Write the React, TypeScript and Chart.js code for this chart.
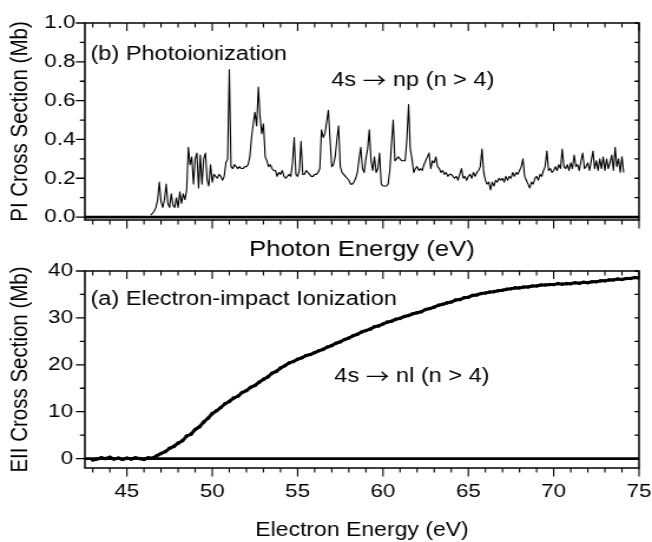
import { useEffect, useRef } from 'react';
import { Chart, registerables } from 'chart.js';

Chart.register(...registerables);

// The drawing is laid out on a 553px-wide canvas that is shown 652px wide,
// which gives the figure its slightly wide lettering.
const CANVAS_W = 553;
const PAGE_W = 652;
const SX = PAGE_W / CANVAS_W;
const FONT = "'Liberation Sans', Arial, Helvetica, sans-serif";
const ARROW = '\u2192';
const ARROW_FONT = "20px 'Noto Sans CJK SC', 'DejaVu Sans', sans-serif";
const ARROW_DROP = 2;

// Shared energy axis (eV)
const X_MIN = 42.54;
const X_MAX = 75;
const X_TICKS = [45, 50, 55, 60, 65, 70, 75];

// (b) Photoionization cross section (Mb), sampled every 0.1 eV from 46.4 eV
const PI_START = 46.4;
const PI_STEP = 0.1;
const PI_SECTION = [
  0.01, 0.02, 0.03, 0.05, 0.09, 0.18,
  0.08, 0.05, 0.09, 0.17, 0.07, 0.05, 0.12, 0.06, 0.05, 0.10,
  0.05, 0.13, 0.07, 0.12, 0.09, 0.14, 0.36, 0.27, 0.31, 0.17,
  0.30, 0.33, 0.15, 0.32, 0.17, 0.30, 0.33, 0.19, 0.16, 0.27,
  0.18, 0.22, 0.21, 0.20, 0.22, 0.21, 0.19, 0.21, 0.28, 0.30,
  0.76, 0.26, 0.25, 0.27, 0.26, 0.25, 0.26, 0.25, 0.25, 0.26,
  0.26, 0.27, 0.31, 0.41, 0.48, 0.54, 0.47, 0.67, 0.52, 0.43,
  0.48, 0.31, 0.29, 0.26, 0.27, 0.25, 0.24, 0.24, 0.21, 0.23,
  0.22, 0.24, 0.21, 0.20, 0.21, 0.22, 0.21, 0.28, 0.41, 0.22,
  0.21, 0.24, 0.39, 0.22, 0.22, 0.24, 0.23, 0.22, 0.21, 0.21,
  0.22, 0.22, 0.23, 0.25, 0.45, 0.41, 0.43, 0.49, 0.55, 0.40,
  0.26, 0.27, 0.31, 0.40, 0.47, 0.26, 0.23, 0.22, 0.21, 0.20,
  0.19, 0.17, 0.17, 0.18, 0.20, 0.23, 0.30, 0.36, 0.25, 0.23,
  0.30, 0.35, 0.45, 0.29, 0.24, 0.31, 0.23, 0.25, 0.33, 0.17,
  0.16, 0.16, 0.16, 0.17, 0.24, 0.38, 0.50, 0.29, 0.30, 0.31,
  0.30, 0.29, 0.29, 0.29, 0.40, 0.58, 0.35, 0.30, 0.23, 0.25,
  0.26, 0.24, 0.25, 0.24, 0.27, 0.29, 0.31, 0.33, 0.25, 0.29,
  0.28, 0.31, 0.26, 0.25, 0.23, 0.24, 0.22, 0.23, 0.21, 0.22,
  0.22, 0.21, 0.20, 0.21, 0.19, 0.22, 0.25, 0.20, 0.21, 0.19,
  0.21, 0.22, 0.20, 0.23, 0.21, 0.23, 0.24, 0.26, 0.35, 0.23,
  0.19, 0.17, 0.18, 0.14, 0.18, 0.16, 0.19, 0.18, 0.20, 0.19,
  0.20, 0.18, 0.21, 0.19, 0.21, 0.20, 0.23, 0.21, 0.23, 0.22,
  0.24, 0.26, 0.30, 0.21, 0.19, 0.17, 0.15, 0.18, 0.17, 0.20,
  0.21, 0.19, 0.22, 0.21, 0.24, 0.26, 0.34, 0.24, 0.25, 0.23,
  0.24, 0.26, 0.24, 0.27, 0.25, 0.35, 0.26, 0.25, 0.27, 0.24,
  0.28, 0.25, 0.32, 0.26, 0.27, 0.24, 0.29, 0.33, 0.25, 0.26,
  0.28, 0.24, 0.29, 0.34, 0.25, 0.29, 0.24, 0.30, 0.25, 0.31,
  0.24, 0.30, 0.25, 0.28, 0.32, 0.24, 0.36, 0.26, 0.30, 0.23,
  0.31, 0.23,
];
const PI_Y_TICKS = [0, 0.2, 0.4, 0.6, 0.8, 1.0];
const PI_Y_MINOR = [0.1, 0.3, 0.5, 0.7, 0.9];

// (a) Electron-impact ionization cross section (Mb), every 0.25 eV from 43 eV
const EII_START = 43.0;
const EII_STEP = 0.25;
const EII_SECTION = [
  -0.3, -0.1, 0.2, 0.0, 0.3, -0.1, 0.1, -0.2,
  0.1, -0.1, 0.2, 0.0, -0.2, 0.2, 0.1, 0.6,
  1.1, 1.5, 2.2, 2.6, 3.3, 3.8, 4.8, 5.2,
  6.2, 6.8, 7.8, 8.6, 9.6, 10.2, 10.9, 11.7,
  12.2, 12.9, 13.3, 14.1, 14.5, 15.2, 15.6, 16.3,
  16.9, 17.4, 18.2, 18.6, 19.3, 19.8, 20.4, 20.7,
  21.2, 21.5, 22.0, 22.2, 22.6, 23.0, 23.3, 23.8,
  24.1, 24.6, 24.9, 25.4, 25.7, 26.2, 26.5, 27.0,
  27.3, 27.6, 28.1, 28.3, 28.7, 29.1, 29.3, 29.7,
  29.9, 30.3, 30.5, 30.9, 31.1, 31.3, 31.8, 32.0,
  32.3, 32.7, 32.9, 33.2, 33.4, 33.8, 33.9, 34.3,
  34.4, 34.8, 34.9, 35.2, 35.3, 35.5, 35.6, 35.8,
  35.9, 36.1, 36.2, 36.4, 36.4, 36.6, 36.6, 36.8,
  36.8, 37.0, 37.0, 37.1, 37.1, 37.3, 37.2, 37.3,
  37.3, 37.5, 37.4, 37.6, 37.5, 37.7, 37.7, 37.9,
  37.9, 38.1, 38.1, 38.3, 38.2, 38.4, 38.4, 38.6,
  38.5,
];
const EII_Y_TICKS = [0, 10, 20, 30, 40];
const EII_Y_MINOR = [5, 15, 25, 35];

// Panel labels, anchored in data coordinates (energy, cross section);
// each label is a run of text pieces drawn one after another.
const PI_NOTES = [
  { parts: ['(b) Photoionization'], x: 42.86, y: 0.809 },
  { parts: ['4s ', ARROW, ' np (n > 4)'], x: 56.97, y: 0.675 },
];
const EII_NOTES = [
  { parts: ['(a) Electron-impact Ionization'], x: 42.86, y: 32.75 },
  { parts: ['4s ', ARROW, ' nl (n > 4)'], x: 57.15, y: 16.33 },
];

const toPoints = (start: number, step: number, values: number[]) =>
  values.map((y, i) => ({ x: Math.round((start + i * step) * 100) / 100, y }));

type FrameCfg = {
  yMajor: number[];
  yMinor: number[];
  notes: { parts: string[]; x: number; y: number }[];
};

// Draws the boxed frame, zero line, in/out tick marks and the panel labels.
function framePlugin(cfg: FrameCfg) {
  return {
    id: 'frame',
    afterDatasetsDraw(chart: any) {
      const { ctx, chartArea: a, scales } = chart;
      const xs = scales.x;
      const ys = scales.y;
      ctx.save();
      ctx.strokeStyle = '#000';
      ctx.lineCap = 'butt';

      const y0 = ys.getPixelForValue(0);
      ctx.lineWidth = 2.6;
      ctx.beginPath();
      ctx.moveTo(a.left, y0);
      ctx.lineTo(a.right, y0);
      ctx.stroke();

      ctx.lineWidth = 1.5;
      ctx.strokeRect(a.left, a.top, a.right - a.left, a.bottom - a.top);

      // energy ticks: outward at the bottom, inward at the top
      ctx.lineWidth = 1.3 / SX;
      ctx.beginPath();
      for (let e = Math.ceil(X_MIN); e <= X_MAX; e += 1) {
        const px = xs.getPixelForValue(e);
        const major = X_TICKS.includes(e);
        ctx.moveTo(px, a.bottom);
        ctx.lineTo(px, a.bottom + (major ? 8.5 : 4.5));
        ctx.moveTo(px, a.top);
        ctx.lineTo(px, a.top + (major ? 8 : 4.5));
      }
      ctx.stroke();

      // cross-section ticks: outward on the left, inward on the right
      ctx.lineWidth = 1.3;
      ctx.beginPath();
      const yTicks = [...cfg.yMajor.map((v) => [v, 1]), ...cfg.yMinor.map((v) => [v, 0])];
      for (const [v, major] of yTicks) {
        const py = ys.getPixelForValue(v);
        ctx.moveTo(a.left, py);
        ctx.lineTo(a.left - (major ? 9 : 5) / SX, py);
        ctx.moveTo(a.right, py);
        ctx.lineTo(a.right - 4.5 / SX, py);
      }
      ctx.stroke();

      ctx.fillStyle = '#000';
      ctx.textAlign = 'left';
      ctx.textBaseline = 'alphabetic';
      for (const n of cfg.notes) {
        let x = xs.getPixelForValue(n.x);
        const y = ys.getPixelForValue(n.y);
        for (const part of n.parts) {
          const isArrow = part === ARROW;
          ctx.font = isArrow ? ARROW_FONT : `20px ${FONT}`;
          ctx.fillText(part, x, isArrow ? y + ARROW_DROP : y);
          x += ctx.measureText(part).width;
        }
      }
      ctx.restore();
    },
  };
}

const tickFont = { family: FONT, size: 19 };

function xScale(extra: any) {
  return {
    type: 'linear',
    min: X_MIN,
    max: X_MAX,
    grid: { display: false, drawTicks: false },
    border: { display: false },
    afterBuildTicks: (s: any) => {
      s.ticks = X_TICKS.map((value) => ({ value }));
    },
    ...extra,
  };
}

function yScale(extra: any, ticks: number[], width: number) {
  return {
    type: 'linear',
    grid: { display: false, drawTicks: false },
    border: { display: false },
    afterBuildTicks: (s: any) => {
      s.ticks = ticks.map((value) => ({ value }));
    },
    afterFit: (s: any) => {
      s.width = width;
      s.paddingTop = 0;
      s.paddingBottom = 0;
    },
    ...extra,
  };
}

export default function App() {
  const topRef = useRef<HTMLCanvasElement>(null);
  const botRef = useRef<HTMLCanvasElement>(null);

  useEffect(() => {
    const common = {
      responsive: false,
      animation: false as const,
      devicePixelRatio: 1,
      plugins: { legend: { display: false }, tooltip: { enabled: false } },
      events: [] as any[],
    };

    const top = new Chart(topRef.current as HTMLCanvasElement, {
      type: 'line',
      data: {
        datasets: [
          {
            data: toPoints(PI_START, PI_STEP, PI_SECTION),
            borderColor: '#000',
            borderWidth: 1.1,
            borderJoinStyle: 'round',
            pointRadius: 0,
            tension: 0,
          },
        ],
      },
      options: {
        ...common,
        layout: { padding: { left: 0, right: 11, top: 23, bottom: 0 } },
        scales: {
          x: xScale({
            ticks: { display: false },
            title: {
              display: true,
              text: 'Photon Energy (eV)',
              color: '#000',
              font: { family: FONT, size: 21.8 },
              padding: { top: 0, bottom: 2 },
            },
            afterFit: (s: any) => {
              s.height = 45;
              s.paddingLeft = 0;
              s.paddingRight = 0;
            },
          }),
          y: yScale(
            {
              min: -0.015,
              max: 1.0,
              ticks: {
                color: '#000',
                font: tickFont,
                padding: 8,
                callback: (v: any) => Number(v).toFixed(1),
              },
              title: {
                display: true,
                text: 'PI Cross Section (Mb)',
                color: '#000',
                font: { family: FONT, size: 20.5 },
                padding: { top: 5, bottom: 0 },
              },
            },
            PI_Y_TICKS,
            72,
          ),
        },
      } as any,
      plugins: [framePlugin({ yMajor: PI_Y_TICKS, yMinor: PI_Y_MINOR, notes: PI_NOTES })],
    });

    const bot = new Chart(botRef.current as HTMLCanvasElement, {
      type: 'line',
      data: {
        datasets: [
          {
            data: toPoints(EII_START, EII_STEP, EII_SECTION),
            borderColor: '#000',
            borderWidth: 3,
            borderJoinStyle: 'round',
            pointRadius: 1.8,
            pointBorderWidth: 0,
            pointBackgroundColor: '#000',
            tension: 0,
          },
        ],
      },
      options: {
        ...common,
        layout: { padding: { left: 0, right: 11, top: 26, bottom: 0 } },
        scales: {
          x: xScale({
            ticks: {
              color: '#000',
              font: tickFont,
              padding: 12,
              maxRotation: 0,
              autoSkip: false,
              callback: (v: any) => String(v),
            },
            title: {
              display: true,
              text: 'Electron Energy (eV)',
              color: '#000',
              font: { family: FONT, size: 19.5 },
              padding: { top: 0, bottom: 0 },
            },
            afterFit: (s: any) => {
              s.height = 74;
              s.paddingLeft = 0;
              s.paddingRight = 0;
            },
          }),
          y: yScale(
            {
              min: -2,
              max: 40,
              ticks: {
                color: '#000',
                font: tickFont,
                padding: 10,
                callback: (v: any) => String(v),
              },
              title: {
                display: true,
                text: 'EII Cross Section (Mb)',
                color: '#000',
                font: { family: FONT, size: 20.5 },
                padding: { top: 5, bottom: 0 },
              },
            },
            EII_Y_TICKS,
            72,
          ),
        },
      } as any,
      plugins: [framePlugin({ yMajor: EII_Y_TICKS, yMinor: EII_Y_MINOR, notes: EII_NOTES })],
    });

    return () => {
      top.destroy();
      bot.destroy();
    };
  }, []);

  return (
    <div
      style={{
        position: 'absolute',
        left: 0,
        top: 0,
        width: PAGE_W,
        height: 542,
        background: '#fff',
      }}
    >
      <canvas
        ref={topRef}
        width={CANVAS_W}
        height={265}
        style={{ position: 'absolute', left: 0, top: 0, width: `${PAGE_W}px`, height: '265px' }}
      />
      <canvas
        ref={botRef}
        width={CANVAS_W}
        height={297}
        style={{ position: 'absolute', left: 0, top: '245px', width: `${PAGE_W}px`, height: '297px' }}
      />
    </div>
  );
}
